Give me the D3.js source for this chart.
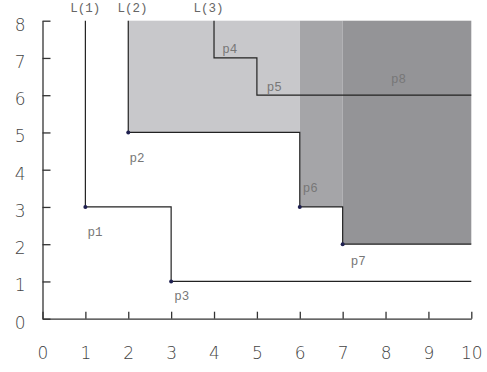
<!DOCTYPE html>
<html><head><meta charset="utf-8">
<script src="https://cdn.jsdelivr.net/npm/d3@7"></script>
<style>body{margin:0;background:#fff}</style>
</head><body>
<svg id="c" width="487" height="372"></svg>
<script>
// data
const xTicks = [0,1,2,3,4,5,6,7,8,9,10];
const yTicks = [0,1,2,3,4,5,6,7,8];
const lineNames = ["L(1)","L(2)","L(3)"];
const lineL1 = [[1,8],[1,3],[3,3],[3,1],[10,1]];
const lineL2 = [[2,8],[2,5],[6,5],[6,3],[7,3],[7,2],[10,2]];
const lineL3 = [[4,8],[4,7],[5,7],[5,6],[10,6]];
const lineLabelX = [1.0, 2.1, 3.87];
const regionX0 = [2,6,7];
const regionX1 = [6,7,10];
const regionYLow = [5,3,2];
const regionColors = ["#c8c8cb","#a5a5a8","#949497"];
const pointNames = ["p1","p2","p3","p4","p5","p6","p7","p8"];
const pointX = [1,2,3,4,5,6,7,null];
const pointY = [3,5,1,7,6,3,2,null];
const pointDot = [true,true,true,false,false,true,true,false];
const labelX = [1.05,2.03,3.07,4.19,5.23,6.07,7.19,8.13];
const labelY = [2.22,4.22,0.5,7.12,6.1,3.39,1.45,6.34];

const svg = d3.select("#c");
const x = d3.scaleLinear().domain([0,10]).range([42.5,471.3]);
const y = d3.scaleLinear().domain([0,8]).range([318.7,20.7]);

// regions
regionX0.forEach((x0,i)=>{
  svg.append("rect")
    .attr("x", x(x0)).attr("y", y(8))
    .attr("width", x(regionX1[i]) - x(x0))
    .attr("height", y(regionYLow[i]) - y(8))
    .attr("fill", regionColors[i]);
});

// axes
const ax = svg.append("g").attr("transform",`translate(0,${y(0)})`)
  .call(d3.axisBottom(x).tickValues(xTicks).tickSize(-7).tickSizeOuter(0).tickPadding(28));
const ay = svg.append("g").attr("transform",`translate(${x(0)},0)`)
  .call(d3.axisLeft(y).tickValues(yTicks).tickSize(-8).tickSizeOuter(0).tickPadding(17));
[ax,ay].forEach(g=>{
  g.selectAll("path,line").attr("stroke","#333").attr("stroke-width",1.3);
  g.selectAll("text").attr("font-family","DejaVu Sans").attr("font-size",17).attr("font-weight",200).attr("fill","#444");
});
ay.selectAll("text").attr("dy","0.55em");

// lines
const lineGen = d3.line().x(d=>x(d[0])).y(d=>y(d[1]));
[lineL1,lineL2,lineL3].forEach(L=>{
  svg.append("path").attr("d", lineGen(L)).attr("fill","none")
    .attr("stroke","#222").attr("stroke-width",1.2);
});

// line labels
lineNames.forEach((n,i)=>{
  svg.append("text").attr("x", x(lineLabelX[i])).attr("y", 12)
    .attr("text-anchor","middle").attr("font-family","Liberation Mono")
    .attr("font-size",12.5).attr("fill","#666").text(n);
});

// dots
pointNames.forEach((n,i)=>{
  if(pointDot[i]) svg.append("circle").attr("cx",x(pointX[i])).attr("cy",y(pointY[i]))
    .attr("r",2).attr("fill","#1f2050");
  svg.append("text").attr("x", x(labelX[i])).attr("y", y(labelY[i]))
    .attr("font-family","Liberation Mono").attr("font-size",12.5).attr("fill","#777").text(n);
});
</script>
</body></html>
